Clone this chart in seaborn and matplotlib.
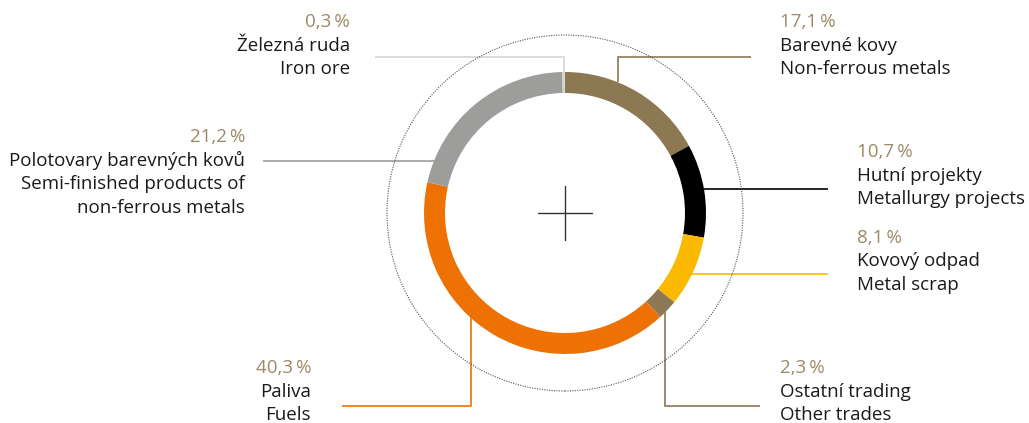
import matplotlib
matplotlib.use("Agg")
import matplotlib.pyplot as plt
from matplotlib.patches import Circle
import seaborn as sns

# ---- data ----
categories_cz = ["Barevné kovy", "Hutní projekty", "Kovový odpad", "Ostatní trading",
                 "Paliva", "Polotovary barevných kovů", "Železná ruda"]
categories_en = ["Non-ferrous metals", "Metallurgy projects", "Metal scrap", "Other trades",
                 "Fuels", "Semi-finished products of\nnon-ferrous metals", "Iron ore"]
shares = [17.1, 10.7, 8.1, 2.3, 40.3, 21.2, 0.3]
pct_labels = ["17,1\u2009%", "10,7\u2009%", "8,1\u2009%", "2,3\u2009%", "40,3\u2009%", "21,2\u2009%", "0,3\u2009%"]
colors = ["#8C7853", "#000000", "#FBBA00", "#8C7853", "#EE7103", "#9D9D9C", "#D6D6D6"]

sns.set_theme(style="white")
plt.rcParams['font.family'] = ['Open Sans', 'DejaVu Sans']

W, H = 1029, 423
fig = plt.figure(figsize=(W / 100, H / 100), dpi=100)
ax = fig.add_axes([0, 0, 1, 1])

def Y(ypx):
    return H - ypx

cx, cy = 565, Y(213)
R, ring_w = 141, 21

ax.pie(shares, colors=colors, startangle=90, counterclock=False,
       center=(cx, cy), radius=R, frame=True,
       wedgeprops=dict(width=ring_w, linewidth=0))
ax.set_xlim(0, W)
ax.set_ylim(0, H)
ax.set_aspect('equal')
ax.axis('off')

# dotted outer circle
ax.add_patch(Circle((cx, cy), 178, fill=False, ec="#555555", lw=0.8, ls=(0, (1, 1.2))))
# crosshair
ax.plot([cx - 27, cx + 27], [cy, cy], color="#333333", lw=1.0)
ax.plot([cx, cx], [cy - 27, cy + 27], color="#333333", lw=1.0)

# leader lines (pixel layout)
leaders = {
    "Barevné kovy": [(618, 82), (618, 57), (751, 57)],
    "Hutní projekty": [(700, 189), (828, 189)],
    "Kovový odpad": [(690, 274), (828, 274)],
    "Ostatní trading": [(665, 305), (665, 406), (760, 406)],
    "Paliva": [(471, 315), (471, 406), (342, 406)],
    "Polotovary barevných kovů": [(440, 161), (263, 161)],
    "Železná ruda": [(564, 74), (564, 57), (375, 57)],
}
for cat, col in zip(categories_cz, colors):
    pts = leaders[cat]
    ax.plot([p[0] for p in pts], [Y(p[1]) for p in pts], color=col, lw=1.2,
            solid_capstyle='butt', solid_joinstyle='miter', zorder=0.5)

# label blocks: (x, y of first line, ha)
label_pos = {
    "Barevné kovy": (780, 22, 'left'),
    "Hutní projekty": (857, 152, 'left'),
    "Kovový odpad": (857, 238, 'left'),
    "Ostatní trading": (780, 368, 'left'),
    "Paliva": (311, 368, 'right'),
    "Polotovary barevných kovů": (245, 137, 'right'),
    "Železná ruda": (350, 22, 'right'),
}
step = 23.5
fs = 13.5
for cz, en, pct in zip(categories_cz, categories_en, pct_labels):
    x, y0, ha = label_pos[cz]
    lines = [pct, cz] + en.split("\n")
    for i, t in enumerate(lines):
        ax.text(x, Y(y0 + i * step), t, ha=ha, va='center', fontsize=fs,
                color="#9C8A66" if i == 0 else "#1a1a1a")

fig.savefig("out.png", dpi=100)
